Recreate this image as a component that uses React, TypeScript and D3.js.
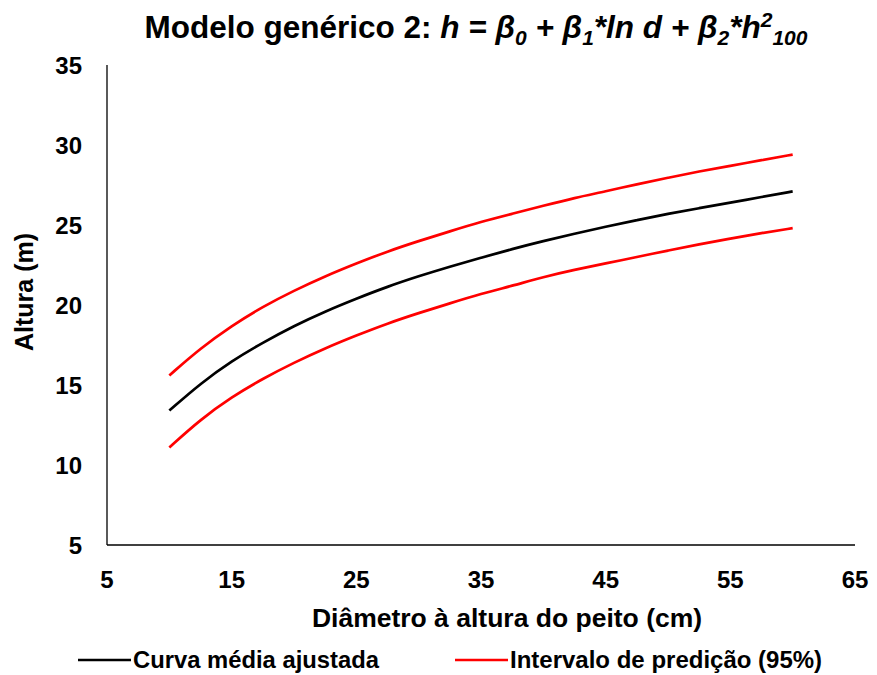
import React from "react";
import * as d3 from "d3";

const diameters = [10, 12.5, 15, 17.5, 20, 22.5, 25, 27.5, 30, 32.5, 35, 37.5, 40, 42.5, 45, 47.5, 50, 52.5, 55, 57.5, 60];
const meanCurve = [13.4, 15.1, 16.5, 17.65, 18.7, 19.6, 20.4, 21.15, 21.8, 22.4, 22.95, 23.5, 24.0, 24.45, 24.9, 25.3, 25.7, 26.05, 26.4, 26.75, 27.1];
const upperPI = [15.6, 17.3, 18.7, 19.9, 20.9, 21.8, 22.6, 23.35, 24.0, 24.6, 25.2, 25.7, 26.2, 26.7, 27.1, 27.55, 27.95, 28.35, 28.7, 29.05, 29.4];
const lowerPI = [11.1, 12.85, 14.25, 15.4, 16.4, 17.3, 18.1, 18.85, 19.5, 20.1, 20.7, 21.2, 21.75, 22.2, 22.6, 23.0, 23.4, 23.8, 24.15, 24.5, 24.8];
const xTicks = [5, 15, 25, 35, 45, 55, 65];
const yTicks = [5, 10, 15, 20, 25, 30, 35];

const W = 877;
const H = 675;
const FONT = "'Liberation Sans', Arial, sans-serif";

export default function App() {
  const x = d3.scaleLinear().domain([5, 65]).range([107, 855]);
  const y = d3.scaleLinear().domain([5, 35]).range([545, 65]);
  const line = d3
    .line<number>()
    .x((_, i) => x(diameters[i]))
    .y((v) => y(v))
    .curve(d3.curveBasis);

  return (
    <svg
      width={W}
      height={H}
      style={{ position: "absolute", left: 0, top: 0, display: "block", background: "#fff" }}
      fontFamily={FONT}
      fontWeight="bold"
    >
      {/* Title */}
      <text x={476} y={38} textAnchor="middle" fontSize={31.5} fill="#000">
        <tspan>Modelo genérico 2: </tspan>
        <tspan fontStyle="italic">h = β</tspan>
        <tspan fontStyle="italic" fontSize={21} dy={7}>0</tspan>
        <tspan fontStyle="italic" dy={-7}> + β</tspan>
        <tspan fontStyle="italic" fontSize={21} dy={7}>1</tspan>
        <tspan fontStyle="italic" dy={-7}>*ln d + β</tspan>
        <tspan fontStyle="italic" fontSize={21} dy={7}>2</tspan>
        <tspan fontStyle="italic" dy={-7}>*h</tspan>
        <tspan fontStyle="italic" fontSize={21} dy={-11}>2</tspan>
        <tspan fontStyle="italic" fontSize={21} dy={18}>100</tspan>
      </text>

      {/* Axes */}
      <line x1={x(5)} x2={x(5)} y1={y(35)} y2={y(5)} stroke="#000" strokeWidth={1.3} />
      <line x1={x(5)} x2={x(65)} y1={y(5)} y2={y(5)} stroke="#000" strokeWidth={1.3} />

      {yTicks.map((t) => (
        <text key={"y" + t} x={82} y={y(t)} dy="0.36em" textAnchor="end" fontSize={24} fill="#000">
          {t}
        </text>
      ))}
      {xTicks.map((t) => (
        <text key={"x" + t} x={x(t)} y={588} textAnchor="middle" fontSize={24} fill="#000">
          {t}
        </text>
      ))}

      <text x={507} y={627} textAnchor="middle" fontSize={26.5} fill="#000">
        Diâmetro à altura do peito (cm)
      </text>
      <text
        transform={`translate(33,292) rotate(-90)`}
        textAnchor="middle"
        fontSize={25}
        fill="#000"
      >
        Altura (m)
      </text>

      {/* Curves */}
      <path d={line(upperPI) || ""} fill="none" stroke="#ff0000" strokeWidth={2.7} />
      <path d={line(lowerPI) || ""} fill="none" stroke="#ff0000" strokeWidth={2.7} />
      <path d={line(meanCurve) || ""} fill="none" stroke="#000" strokeWidth={2.7} />

      {/* Legend */}
      <line x1={78} x2={131} y1={660} y2={660} stroke="#000" strokeWidth={2.7} />
      <text x={133} y={668} fontSize={23.8} fill="#000">Curva média ajustada</text>
      <line x1={455} x2={508} y1={660} y2={660} stroke="#ff0000" strokeWidth={2.7} />
      <text x={510} y={668} fontSize={24} fill="#000">Intervalo de predição (95%)</text>
    </svg>
  );
}
